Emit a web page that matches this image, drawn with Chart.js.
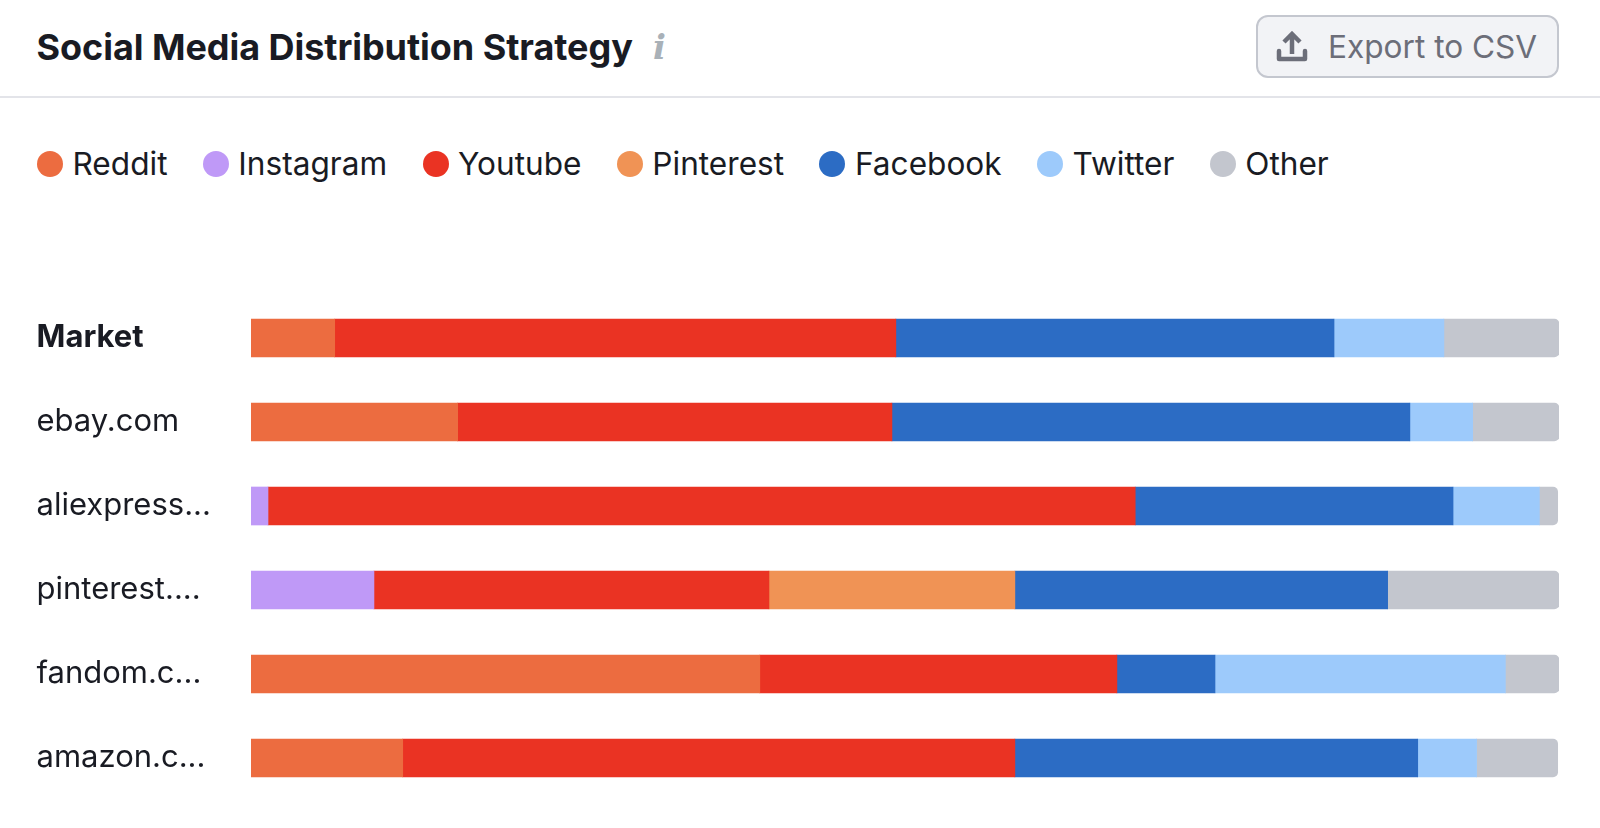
<!DOCTYPE html>
<html>
<head>
<meta charset="utf-8">
<title>Social Media Distribution Strategy</title>
<script src="https://cdn.jsdelivr.net/npm/chart.js@4"></script>
<style>
    html, body { margin: 0; padding: 0; background: #fff; }
    body { width: 1600px; height: 828px; position: relative; overflow: hidden; font-family: Inter, sans-serif; }
    .title { position: absolute; left: 36.5px; top: 25px; font-size: 36px; line-height: 44px; font-weight: 700; color: #191b23; white-space: nowrap; letter-spacing: -0.05px; }
    .info { position: absolute; left: 653px; top: 27px; font: italic 700 34px/40px "DejaVu Serif", serif; color: #a9b1b8; }
    .divider { position: absolute; left: 0; top: 96px; width: 1600px; height: 2px; background: #e3e4e9; }
    .export { position: absolute; left: 1256px; top: 15px; width: 303px; height: 63px; box-sizing: border-box; border: 2px solid #c4c7cf; border-radius: 12px; background: #f2f3f6; color: #6c6e79; font-size: 31.6px; line-height: 59px; padding-left: 70px; white-space: nowrap; }
    .export svg { position: absolute; left: 18px; top: 14px; }
    #legend { position: absolute; left: 37px; top: 144px; height: 40px; display: flex; font-size: 31.6px; line-height: 40px; color: #191b23; white-space: nowrap; }
    .item { display: flex; align-items: center; margin-right: 35.4px; }
    .dot { width: 26px; height: 26px; border-radius: 50%; margin-right: 9.5px; }
    #wrap { position: absolute; left: 0; top: 296px; width: 1600px; height: 504px; }
</style>
</head>
<body>
<div class="title">Social Media Distribution Strategy</div>
<div class="info">i</div>
<div class="export">
    <svg width="32" height="32" viewBox="0 0 32 32" fill="none" stroke="#6c6e79" stroke-width="4.5"><path d="M16 23 V4 M8 11 L16 3 L24 11" /><path d="M3 20 V28 H29 V20" stroke-linejoin="round" stroke-linecap="round"/></svg>
    Export to CSV
</div>
<div class="divider"></div>
<div id="legend"></div>
<div id="wrap"><canvas id="chart"></canvas></div>

<script>
'use strict';

const categories = ['Market', 'ebay.com', 'aliexpress...', 'pinterest....', 'fandom.c...', 'amazon.c...'];

// Share of each network per site (%), null = no segment
const reddit    = [6.4, 15.8, null, null, 38.9, 11.6];
const instagram = [null, null, 1.3, 9.4, null, null];
const youtube   = [42.9, 33.2, 66.3, 30.2, 27.3, 46.8];
const pinterest = [null, null, null, 18.8, null, null];
const facebook  = [33.5, 39.6, 24.3, 28.5, 7.5, 30.8];
const twitter   = [8.4, 4.8, 6.6, null, 22.2, 4.5];
const other     = [8.8, 6.6, 1.4, 13.1, 4.1, 6.2];

const seriesNames  = ['Reddit', 'Instagram', 'Youtube', 'Pinterest', 'Facebook', 'Twitter', 'Other'];
const seriesValues = [reddit, instagram, youtube, pinterest, facebook, twitter, other];
const seriesColors = ['#ec6c40', '#bf99f7', '#ea3323', '#f09355', '#2c6cc4', '#9dcafb', '#c3c6ce'];

// Legend is plain HTML, same as the original widget
const legendEl = document.getElementById('legend');
seriesNames.forEach((name, i) => {
    const item = document.createElement('div');
    item.className = 'item';
    const dot = document.createElement('span');
    dot.className = 'dot';
    dot.style.background = seriesColors[i];
    item.appendChild(dot);
    item.appendChild(document.createTextNode(name));
    legendEl.appendChild(item);
});

const lastSeries = seriesValues.length - 1;

new Chart(document.getElementById('chart'), {
    type: 'bar',
    data: {
        labels: categories,
        datasets: seriesNames.map((name, i) => ({
            label: name,
            data: seriesValues[i],
            backgroundColor: seriesColors[i],
            borderWidth: 0,
            borderSkipped: false,
            barThickness: 38,
            // only the far right end of a stacked bar gets rounded
            borderRadius: i === lastSeries ? { topRight: 5, bottomRight: 5 } : 0
        }))
    },
    options: {
        indexAxis: 'y',
        responsive: true,
        maintainAspectRatio: false,
        animation: false,
        layout: { padding: { left: 36.5, right: 41, top: 0, bottom: 0 } },
        plugins: { legend: { display: false }, tooltip: { enabled: false } },
        scales: {
            x: { stacked: true, min: 0, max: 100, display: false },
            y: {
                stacked: true,
                grid: { display: false },
                border: { display: false },
                // tick labels otherwise reserve half a line above and below the bands
                afterFit: (axis) => {
                    axis.width = 214.5;
                    axis.paddingTop = 0;
                    axis.paddingBottom = 0;
                },
                ticks: {
                    crossAlign: 'far',
                    padding: 0,
                    color: '#191b23',
                    autoSkip: false,
                    font: (ctx) => ({
                        family: 'Inter',
                        size: 31,
                        weight: ctx.index === 0 ? '700' : '400'
                    })
                }
            }
        }
    }
});
</script>
</body>
</html>
